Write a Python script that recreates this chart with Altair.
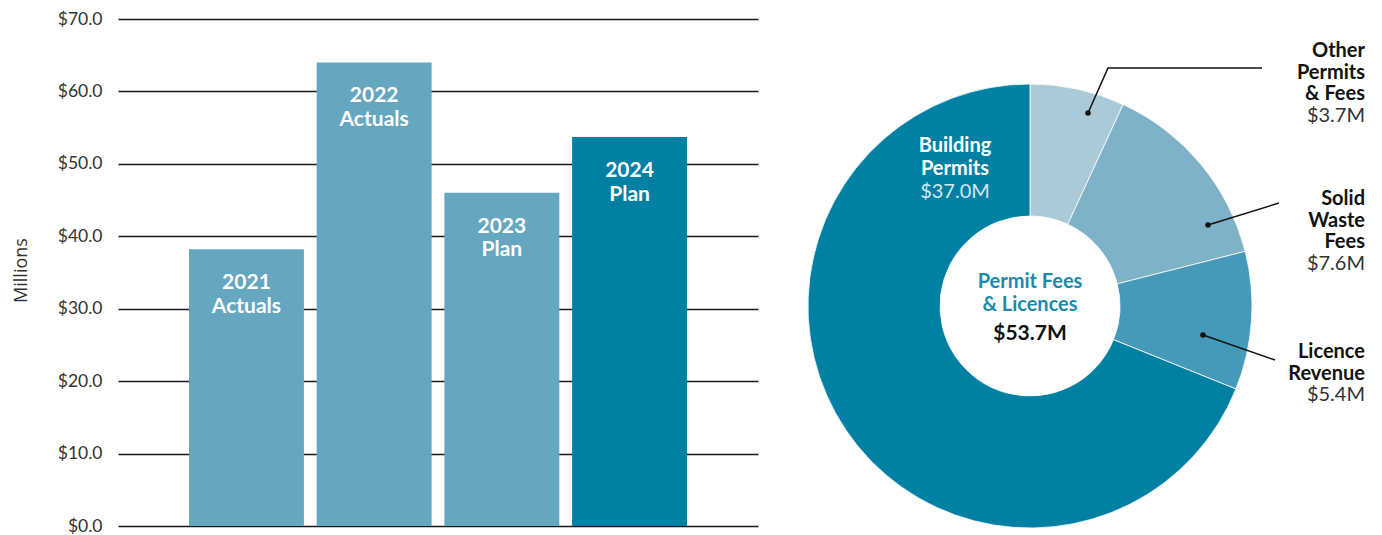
import altair as alt
import pandas as pd

# ---------------- data ----------------
bar_categories = ["2021 Actuals", "2022 Actuals", "2023 Plan", "2024 Plan"]
bar_values = [38.2, 64.0, 46.0, 53.7]
y_ticks = [0, 10, 20, 30, 40, 50, 60, 70]

slice_names = ["Other\nPermits\n& Fees", "Solid\nWaste\nFees", "Licence\nRevenue", "Building\nPermits"]
slice_values = [3.7, 7.6, 5.4, 37.0]
center_title = "Permit Fees\n& Licences"

# ---------------- style ----------------
FONT = "Lato"
bar_colors = ["#65a6c0", "#65a6c0", "#65a6c0", "#0080a3"]
slice_colors = ["#abcad8", "#7fb1c8", "#4599b9", "#0080a3"]

# annotation layout for the donut (pixel offsets from the centre, y up)
label_x = [335, 335, 335, -75]
label_y = [249, 101, -52, 154]
leader_lines = [
    [(58, 193), (78, 238), (232, 238)],
    [(178, 81), (249, 103)],
    [(173, -29), (245, -54)],
]
OUT_LH = 21.5
IN_LH = 23
PLOT_H = 507

# ---------------- bar chart ----------------
bars_df = pd.DataFrame({"cat": bar_categories, "value": bar_values})
xsc_bar = alt.Scale(paddingInner=0.1, paddingOuter=0.556)
ysc_bar = alt.Scale(domain=[0, 70], nice=False)
y_axis = alt.Axis(
    values=y_ticks, format="$.1f", title="Millions", grid=True,
    gridColor="#1a1a1a", gridWidth=1.6, domain=False, ticks=False,
    labelPadding=16, labelFontSize=17.5, labelColor="#333333", labelFont=FONT,
    titleFont="Open Sans", titleFontSize=18, titleFontWeight="normal", titleColor="#333333",
    titleX=-97, titleY=251, titleBaseline="middle", titleAngle=-90,
)
bx = alt.X("cat:N", sort=bar_categories, axis=None, scale=xsc_bar)
by = alt.Y("value:Q", scale=ysc_bar, axis=y_axis)

bars = alt.Chart(bars_df).mark_bar().encode(
    x=bx, y=by,
    color=alt.Color("cat:N", scale=alt.Scale(domain=bar_categories, range=bar_colors), legend=None),
)
bar_labels = alt.Chart(bars_df).mark_text(
    font=FONT, fontSize=21, fontWeight="bold", color="white",
    baseline="top", dy=23, lineBreak=" ", lineHeight=23.5,
).encode(x=bx, y=by, text="cat:N")

left = alt.layer(bars, bar_labels).properties(width=640, height=PLOT_H)

# ---------------- donut ----------------
xsc = alt.Scale(domain=[-260, 338], nice=False, zero=False)
ysc = alt.Scale(domain=[-220, 287], nice=False, zero=False)

pie_df = pd.DataFrame({"name": slice_names, "value": slice_values, "order": list(range(len(slice_names)))})

arc = alt.Chart(pie_df).transform_joinaggregate(
    total="sum(value)"
).transform_window(
    cum="sum(value)", sort=[alt.SortField("order", order="ascending")], frame=[None, 0]
).transform_calculate(
    t0="(datum.cum - datum.value) / datum.total",
    t1="datum.cum / datum.total",
    cx="0", cy="0",
).mark_arc(innerRadius=90, outerRadius=222, stroke="white", strokeWidth=0.8).encode(
    theta=alt.Theta("t0:Q", scale=alt.Scale(domain=[0, 1])),
    theta2="t1:Q",
    x=alt.X("cx:Q", scale=xsc, axis=None),
    y=alt.Y("cy:Q", scale=ysc, axis=None),
    color=alt.Color("name:N", scale=alt.Scale(domain=slice_names, range=slice_colors), legend=None),
)

# leader lines
lines_rows = []
for name, pts in zip(slice_names, leader_lines):
    for i, (px, py) in enumerate(pts):
        lines_rows.append({"name": name, "seq": i, "x": px, "y": py})
lines_df = pd.DataFrame(lines_rows)
leaders = alt.Chart(lines_df).mark_line(color="#111111", strokeWidth=1.5).encode(
    x=alt.X("x:Q", scale=xsc, axis=None),
    y=alt.Y("y:Q", scale=ysc, axis=None),
    detail="name:N", order="seq:Q",
)
dots = alt.Chart(lines_df).transform_filter("datum.seq == 0").mark_circle(
    color="#111111", size=30, opacity=1
).encode(
    x=alt.X("x:Q", scale=xsc, axis=None),
    y=alt.Y("y:Q", scale=ysc, axis=None),
)

# slice labels
lab_df = pd.DataFrame({
    "name": slice_names, "value": slice_values,
    "lx": label_x, "ly": label_y,
    "nlines": [n.count("\n") + 1 for n in slice_names],
    "inside": [False, False, False, True],
})
lab_base = alt.Chart(lab_df).transform_calculate(
    vtext="'$' + format(datum.value, '.1f') + 'M'",
    vy=f"datum.inside ? datum.ly - datum.nlines * {IN_LH} : datum.ly - datum.nlines * {OUT_LH}",
)
lx = alt.X("lx:Q", scale=xsc, axis=None)
ly = alt.Y("ly:Q", scale=ysc, axis=None)
vy = alt.Y("vy:Q", scale=ysc, axis=None)

out_names = lab_base.transform_filter("!datum.inside").mark_text(
    font=FONT, fontSize=20, fontWeight="bold", color="#111111", align="right",
    baseline="alphabetic", lineBreak="\n", lineHeight=OUT_LH,
).encode(x=lx, y=ly, text="name:N")
out_vals = lab_base.transform_filter("!datum.inside").mark_text(
    font=FONT, fontSize=20, color="#333333", align="right", baseline="alphabetic",
).encode(x=lx, y=vy, text="vtext:N")
in_names = lab_base.transform_filter("datum.inside").mark_text(
    font=FONT, fontSize=20, fontWeight="bold", color="white", align="center",
    baseline="alphabetic", lineBreak="\n", lineHeight=IN_LH,
).encode(x=lx, y=ly, text="name:N")
in_vals = lab_base.transform_filter("datum.inside").mark_text(
    font=FONT, fontSize=20, color="#d3e8ef", align="center", baseline="alphabetic",
).encode(x=lx, y=vy, text="vtext:N")

# centre labels
center_df = pd.DataFrame({"title": [center_title], "cx": [0], "ty": [18]})
center_title_mark = alt.Chart(center_df).mark_text(
    font=FONT, fontSize=20, fontWeight="bold", color="#1b8aab", align="center",
    baseline="alphabetic", lineBreak="\n", lineHeight=IN_LH,
).encode(x=alt.X("cx:Q", scale=xsc, axis=None), y=alt.Y("ty:Q", scale=ysc, axis=None), text="title:N")
center_total = alt.Chart(pie_df).transform_aggregate(
    total="sum(value)"
).transform_calculate(
    ttext="'$' + format(datum.total, '.1f') + 'M'", cx="0", ty="-34",
).mark_text(
    font=FONT, fontSize=21, fontWeight="bold", color="#111111", align="center", baseline="alphabetic",
).encode(x=alt.X("cx:Q", scale=xsc, axis=None), y=alt.Y("ty:Q", scale=ysc, axis=None), text="ttext:N")

right = alt.layer(
    arc, leaders, dots, out_names, out_vals, in_names, in_vals, center_title_mark, center_total
).properties(width=598, height=PLOT_H)

chart = alt.hconcat(left, right, spacing=12).resolve_scale(color="independent").configure_view(
    strokeWidth=0
).properties(
    padding={"left": 4, "top": 2, "right": 0, "bottom": 0}
)

chart.save("out.html", embed_options={"renderer": "svg", "actions": False})
